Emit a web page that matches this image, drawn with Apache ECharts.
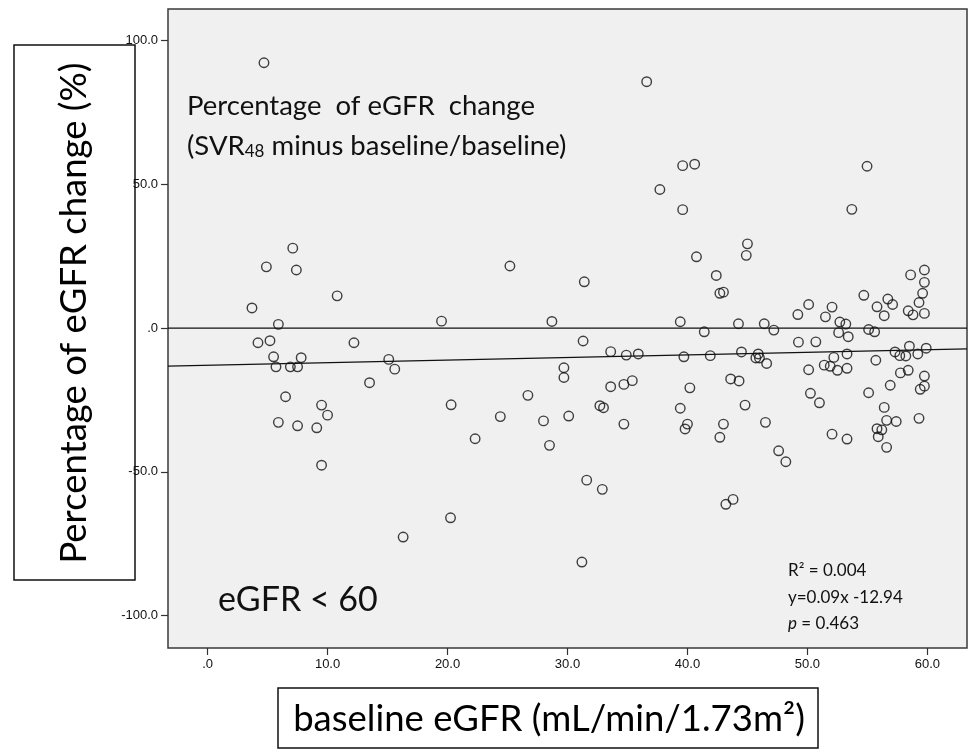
<!DOCTYPE html>
<html>
<head>
<meta charset="utf-8">
<script src="https://cdn.jsdelivr.net/npm/echarts@6/dist/echarts.min.js"></script>
<style>
html,body{margin:0;padding:0;background:#fff;}
#chart{width:969px;height:749px;}
</style>
</head>
<body>
<div id="chart"></div>
<script>
// baseline eGFR values (x)
const baselineEGFR = [
 4.7,7.1,4.9,7.4,10.8,3.7,5.9,19.5,28.7,25.2,
 4.2,5.2,5.5,7.8,5.7,6.9,7.5,12.2,15.1,15.6,
 13.5,6.5,9.5,10.0,5.9,7.5,9.1,9.5,20.3,26.7,
 24.4,22.3,28.0,28.5,20.25,16.3,
 29.7,29.7,30.1,31.3,31.4,33.6,34.9,35.9,33.6,34.7,
 35.4,32.7,33.0,34.7,31.6,32.9,31.2,36.6,39.6,40.6,
 37.7,39.6,45.0,44.9,40.75,42.4,42.7,43.0,39.4,41.4,
 44.25,46.4,47.2,39.7,41.9,44.5,45.9,45.7,46.0,46.6,
 40.2,39.4,40.0,39.8,43.6,44.3,44.8,43.0,42.7,46.5,
 47.6,48.2,43.2,43.8,
 54.97,53.7,58.6,59.75,59.75,59.6,59.3,59.75,58.4,58.8,
 54.7,56.7,57.1,55.8,56.4,50.1,49.2,52.05,51.5,52.7,
 53.2,52.6,53.4,55.1,55.6,49.25,50.7,53.3,52.2,55.7,
 57.3,57.7,58.2,58.5,59.2,59.9,50.1,51.4,51.9,52.5,
 53.3,57.75,58.4,59.75,56.9,59.75,59.4,55.1,50.25,51.0,
 56.4,56.6,57.4,55.8,56.2,55.9,56.6,59.3,52.05,53.3
];
// percentage of eGFR change (y)
const pctChange = [
 92.3,27.8,21.3,20.2,11.2,7.0,1.3,2.4,2.3,21.6,
 -5.1,-4.4,-10.0,-10.3,-13.5,-13.5,-13.5,-5.1,-10.9,-14.3,
 -19.0,-23.9,-26.8,-30.3,-32.8,-34.0,-34.7,-47.7,-26.7,-23.4,
 -30.8,-38.5,-32.3,-40.8,-66.0,-72.7,
 -13.8,-17.2,-30.6,-4.5,16.1,-8.2,-9.4,-9.0,-20.4,-19.6,
 -18.3,-27.0,-27.7,-33.4,-52.9,-56.1,-81.4,85.7,56.5,57.0,
 48.2,41.2,29.3,25.3,24.8,18.3,12.1,12.5,2.2,-1.3,
 1.5,1.5,-0.7,-10.0,-9.6,-8.3,-9.0,-10.4,-10.4,-12.3,
 -20.8,-27.9,-33.4,-35.1,-17.7,-18.4,-26.8,-33.4,-38.0,-32.8,
 -42.7,-46.5,-61.3,-59.6,
 56.3,41.3,18.5,20.2,15.9,12.1,8.9,5.1,6.0,4.6,
 11.4,10.1,8.2,7.4,4.3,8.2,4.7,7.3,3.9,2.1,
 1.4,-1.6,-3.0,-0.5,-1.3,-4.9,-4.8,-9.0,-10.2,-11.2,
 -8.3,-9.6,-9.7,-6.3,-9.0,-7.0,-14.5,-12.9,-13.3,-14.7,
 -14.0,-15.6,-14.7,-16.7,-19.9,-20.2,-21.3,-22.5,-22.7,-26.0,
 -27.6,-32.1,-32.5,-35.0,-35.4,-37.8,-41.5,-31.4,-36.9,-38.6
];
const xTicks = [0,10,20,30,40,50,60];
const yTicks = [-100,-50,0,50,100];
const xRange = [-3.3, 63.3];
const yRange = [-111.3, 111];
const fitCoef = [0.09, -12.94]; // slope, intercept

const points = baselineEGFR.map((x,i)=>[x,pctChange[i]]);
const fitLine = xRange.map(x=>[x, fitCoef[0]*x + fitCoef[1]]);
const zeroLine = xRange.map(x=>[x, 0]);

const fmt = v => v===0 ? '.0' : v.toFixed(1);
const txtFont = 'Lato';

const chart = echarts.init(document.getElementById('chart'), null, {renderer:'canvas'});
chart.setOption({
  animation:false,
  backgroundColor:'#fff',
  grid:{left:168,right:2,top:9,bottom:101,show:true,backgroundColor:'#f0f0f0',borderColor:'#3a3a3a',borderWidth:1.5},
  xAxis:{
    type:'value',min:xRange[0],max:xRange[1],
    axisLine:{show:false,onZero:false},splitLine:{show:false},
    axisTick:{show:true,inside:false,length:7,customValues:xTicks,lineStyle:{color:'#333',width:1.2}},
    axisLabel:{customValues:xTicks,formatter:fmt,color:'#111',fontFamily:'Liberation Sans',fontSize:13,margin:10}
  },
  yAxis:{
    type:'value',min:yRange[0],max:yRange[1],
    axisLine:{show:false,onZero:false},splitLine:{show:false},
    axisTick:{show:true,inside:false,length:7,customValues:yTicks,lineStyle:{color:'#333',width:1.2}},
    axisLabel:{customValues:yTicks,formatter:fmt,color:'#111',fontFamily:'Liberation Sans',fontSize:13,margin:10}
  },
  series:[
    {type:'line',data:zeroLine,symbol:'none',silent:true,lineStyle:{color:'#111',width:1.2},z:2},
    {type:'line',data:fitLine,symbol:'none',silent:true,lineStyle:{color:'#111',width:1.2},z:2},
    {type:'scatter',data:points,symbol:'circle',symbolSize:9.5,silent:true,z:3,
     itemStyle:{color:'rgba(0,0,0,0)',borderColor:'#111',borderWidth:1.4}}
  ],
  graphic:[
    {type:'rect',shape:{x:14,y:45,width:121,height:535},style:{fill:'#fff',stroke:'#111',lineWidth:1.5}},
    {type:'text',x:74,y:313,rotation:Math.PI/2,style:{text:'Percentage of eGFR change (%)',font:'36.5px '+txtFont,fill:'#000',align:'center',verticalAlign:'middle'}},
    {type:'rect',shape:{x:278,y:688,width:540,height:60},style:{fill:'#fff',stroke:'#111',lineWidth:1.5}},
    {type:'text',x:549,y:719,style:{text:'baseline eGFR (mL/min/1.73m²)',font:'36.5px '+txtFont,fill:'#000',align:'center',verticalAlign:'middle'}},
    {type:'text',x:187,y:106,style:{text:'Percentage  of eGFR  change',font:'27.5px '+txtFont,fill:'#111',align:'left',verticalAlign:'middle'}},
    {type:'text',x:187,y:146,style:{text:'(SVR{sub|48} minus baseline/baseline)',font:'27.5px '+txtFont,fill:'#111',align:'left',verticalAlign:'middle',
      rich:{sub:{fontSize:17,fontFamily:txtFont,fill:'#111',padding:[12,0,0,0]}}}},
    {type:'text',x:218,y:600,style:{text:'eGFR < 60',font:'34px '+txtFont,fill:'#111',align:'left',verticalAlign:'middle'}},
    {type:'text',x:788,y:571,style:{text:'R² = 0.004',font:'17px '+txtFont,fill:'#111',align:'left',verticalAlign:'middle'}},
    {type:'text',x:788,y:598,style:{text:'y=0.09x -12.94',font:'17px '+txtFont,fill:'#111',align:'left',verticalAlign:'middle'}},
    {type:'text',x:788,y:624,style:{text:'{it|p} = 0.463',font:'17px '+txtFont,fill:'#111',align:'left',verticalAlign:'middle',
      rich:{it:{fontStyle:'italic',fontSize:17,fontFamily:txtFont,fill:'#111'}}}}
  ]
});
</script>
</body>
</html>
